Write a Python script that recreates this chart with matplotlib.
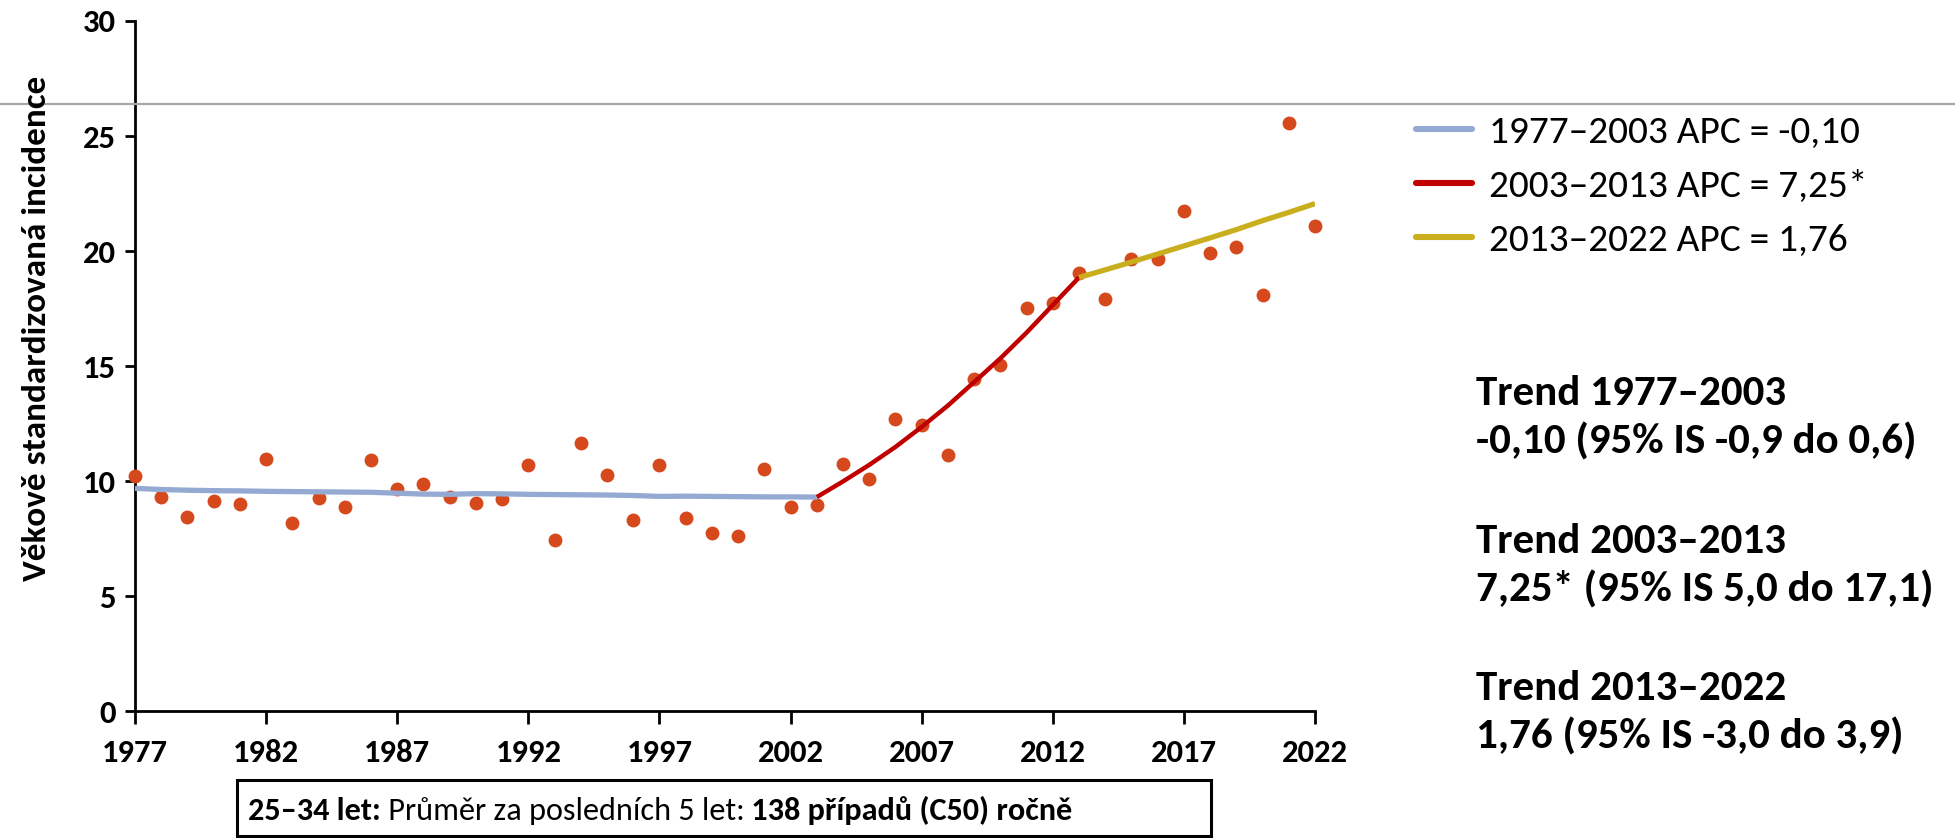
import matplotlib
matplotlib.use("Agg")
import matplotlib.pyplot as plt
from matplotlib import font_manager as fm
from matplotlib.lines import Line2D
from matplotlib.patches import Rectangle

# ---- data -------------------------------------------------------------
years = list(range(1977, 2023))
incidence = [10.20, 9.30, 8.45, 9.15, 9.00, 10.96, 8.19, 9.25, 8.88, 10.90,
             9.67, 9.85, 9.30, 9.06, 9.22, 10.70, 7.42, 11.67, 10.28, 8.29,
             10.70, 8.38, 7.75, 7.59, 10.52, 8.89, 8.96, 10.73, 10.09, 12.71,
             12.43, 11.14, 14.45, 15.04, 17.50, 17.76, 19.05, 17.92, 19.66, 19.65,
             21.75, 19.92, 20.19, 18.09, 25.58, 21.07]

seg1_years = list(range(1977, 2004))
seg1_fit = [9.68, 9.63, 9.60, 9.58, 9.57, 9.55, 9.54, 9.53, 9.52, 9.51,
            9.47, 9.43, 9.42, 9.45, 9.44, 9.42, 9.41, 9.40, 9.39, 9.37,
            9.33, 9.34, 9.33, 9.32, 9.31, 9.31, 9.30]
seg2_years = list(range(2003, 2014))
seg2_fit = [9.30, 9.98, 10.70, 11.48, 12.35, 13.28, 14.30, 15.33, 16.45, 17.65, 18.85]
seg3_years = list(range(2013, 2023))
seg3_fit = [18.85, 19.18, 19.52, 19.87, 20.22, 20.57, 20.93, 21.32, 21.68, 22.06]

seg_labels = ["1977–2003 APC = -0,10",
              "2003–2013 APC = 7,25*",
              "2013–2022 APC = 1,76"]
trend_blocks = [("Trend 1977–2003", "-0,10 (95% IS -0,9 do 0,6)"),
                ("Trend 2003–2013", "7,25* (95% IS 5,0 do 17,1)"),
                ("Trend 2013–2022", "1,76 (95% IS -3,0 do 3,9)")]
note_parts = [("25–34 let:", "bold"),
              (" Průměr za posledních 5 let:", "normal"),
              (" 138 případů (C50) ročně", "bold")]
y_title = "Věkově standardizovaná incidence"

# ---- font -------------------------------------------------------------
available = {f.name for f in fm.fontManager.ttflist}
FONT = "DejaVu Sans"
for cand in ["Carlito", "Liberation Sans Narrow", "Liberation Sans"]:
    if cand in available:
        FONT = cand
        break
plt.rcParams["font.family"] = [FONT, "DejaVu Sans"]

W, H = 1955, 838
fig = plt.figure(figsize=(W / 100, H / 100), dpi=100)
fig.patch.set_facecolor("white")


def fx(px):
    return px / W


def fy(py):
    return 1 - py / H


ax = fig.add_axes([fx(135), fy(711), fx(1315) - fx(135), fy(21) - fy(711)])

ax.plot(years, incidence, "o", color="#D5491C", ms=10, mec="none",
        clip_on=False, zorder=3)
l1, = ax.plot(seg1_years, seg1_fit, color="#94AAD3", lw=3.8,
              solid_capstyle="butt", zorder=4)
l2, = ax.plot(seg2_years, seg2_fit, color="#C00000", lw=3.2,
              solid_capstyle="butt", zorder=4)
l3, = ax.plot(seg3_years, seg3_fit, color="#C9AE1E", lw=3.8,
              solid_capstyle="butt", zorder=4)

ax.set_xlim(1977, 2022)
ax.set_ylim(0, 30)
ax.set_xticks(range(1977, 2023, 5))
ax.set_yticks(range(0, 31, 5))
for side in ("top", "right"):
    ax.spines[side].set_visible(False)
for side in ("left", "bottom"):
    ax.spines[side].set_linewidth(2)
    ax.spines[side].set_color("black")
ax.tick_params(axis="x", direction="out", length=9, width=2, labelsize=23.5, pad=11)
ax.tick_params(axis="y", direction="out", length=7, width=2, labelsize=23.5, pad=7)
for lbl in ax.get_xticklabels() + ax.get_yticklabels():
    lbl.set_fontweight("bold")

fig.text(fx(37), fy(328), y_title, rotation=90, ha="center", va="center",
         fontsize=25.3, fontweight="bold")

# legend for the three joinpoint segments
leg_lines = [Line2D([], [], color=ln.get_color(), lw=4.4, solid_capstyle="round")
             for ln in (l1, l2, l3)]
ax.legend(leg_lines, seg_labels, loc="center left",
          bbox_to_anchor=(fx(1416), fy(186)), bbox_transform=fig.transFigure,
          frameon=False, fontsize=28.4, handlelength=1.42, handletextpad=0.42,
          labelspacing=0.52, borderpad=0, borderaxespad=0)

# trend summaries
base_y = [405, 553, 700]
for (head, body), by in zip(trend_blocks, base_y):
    fig.text(fx(1476), fy(by), head, fontsize=31, fontweight="bold", va="baseline")
    fig.text(fx(1476), fy(by + 49), body, fontsize=31, fontweight="bold", va="baseline")

# separator rule across the top
fig.add_artist(Line2D([0, 1], [fy(104), fy(104)], transform=fig.transFigure,
                      color="#A6A6A6", lw=1.6))

# note box below the axis, with mixed-weight text laid out piece by piece
fig.add_artist(Rectangle((fx(237), fy(836)), fx(1211) - fx(237), fy(780) - fy(836),
                         transform=fig.transFigure, fill=False, ec="black", lw=2.2))
renderer = fig.canvas.get_renderer()
x_cursor = fx(248)
for txt, wt in note_parts:
    t = fig.text(x_cursor, fy(820), txt, fontsize=23.2, fontweight=wt, va="baseline")
    bb = t.get_window_extent(renderer=renderer)
    x_cursor = bb.x1 / W

fig.savefig("out.png", dpi=100, facecolor="white")
